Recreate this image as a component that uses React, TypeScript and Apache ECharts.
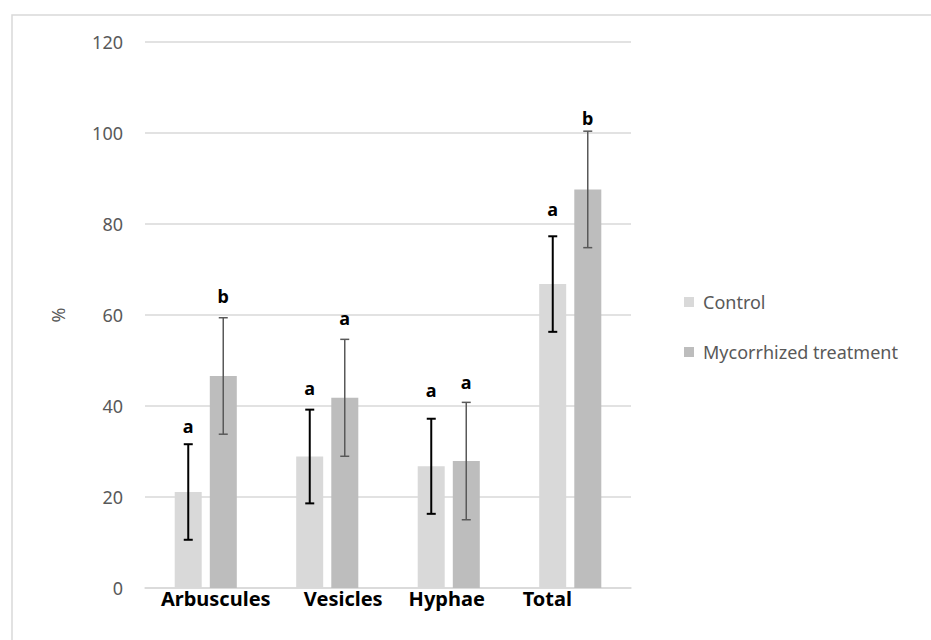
import React, { useEffect, useRef } from "react";
import * as echarts from "echarts";

const categories = ["Arbuscules", "Vesicles", "Hyphae", "Total"];
const seriesNames = ["Control", "Mycorrhized treatment"];
const controlMean = [21.1, 28.9, 26.75, 66.8];
const controlErr = [10.5, 10.3, 10.45, 10.5];
const mycMean = [46.6, 41.8, 27.9, 87.6];
const mycErr = [12.8, 12.85, 12.9, 12.8];
const controlLetters = ["a", "a", "a", "a"];
const mycLetters = ["b", "a", "a", "b"];
const controlLetterY = [35.6, 44.0, 43.6, 83.3];
const mycLetterY = [64.2, 59.3, 45.3, 103.3];
const yTicks = { min: 0, max: 120, interval: 20 };

const labelShift: Record<string, number[]> = {
  Arbuscules: [0, 0, 0, 20],
  Vesicles: [0, 0, 0, 32],
  Hyphae: [0, 4, 0, 0],
  Total: [0, 46, 0, 0],
};

function errorSeries(name: string, means: number[], errs: number[], letters: string[], letterY: number[], offset: number, color: string, width: number) {
  return {
    type: "custom",
    name: name + " err",
    coordinateSystem: "cartesian2d",
    z: 5,
    silent: true,
    data: means.map((m, i) => [i, m - errs[i], m + errs[i], letterY[i]]),
    encode: { x: 0, y: [1, 2] },
    renderItem: (params: any, api: any) => {
      const i = api.value(0);
      const lo = api.coord([i, api.value(1)]);
      const hi = api.coord([i, api.value(2)]);
      const lt = api.coord([i, api.value(3)]);
      const x = lo[0] + offset;
      const cap = 4.5;
      const style = { stroke: color, lineWidth: width };
      return {
        type: "group",
        children: [
          { type: "line", shape: { x1: x, y1: lo[1], x2: x, y2: hi[1] }, style },
          { type: "line", shape: { x1: x - cap, y1: lo[1], x2: x + cap, y2: lo[1] }, style },
          { type: "line", shape: { x1: x - cap, y1: hi[1], x2: x + cap, y2: hi[1] }, style },
          {
            type: "text",
            x: x,
            y: lt[1],
            style: {
              text: letters[params.dataIndex],
              fill: "#000",
              font: "bold 18px 'Noto Sans'",
              align: "center",
              verticalAlign: "middle",
            },
          },
        ],
      };
    },
  };
}

export default function App() {
  const ref = useRef<HTMLDivElement>(null);
  useEffect(() => {
    const chart = echarts.init(ref.current!, null, { renderer: "svg" });
    const rich: Record<string, any> = {};
    categories.forEach((c, i) => {
      rich["c" + i] = {
        fontFamily: "Noto Sans",
        fontWeight: "bold",
        fontSize: 20,
        color: "#000",
        padding: labelShift[c],
      };
    });
    chart.setOption({
      animation: false,
      backgroundColor: "#fff",
      textStyle: { fontFamily: "Noto Sans" },
      graphic: [
        {
          type: "rect",
          shape: { x: 12, y: 15, width: 1000, height: 1000 },
          style: { fill: "none", stroke: "#d9d9d9", lineWidth: 1.5 },
          silent: true,
        },
      ],
      grid: { left: 145, right: 300, top: 42, bottom: 52 },
      legend: {
        orient: "vertical",
        left: 684,
        top: 292,
        padding: 0,
        itemWidth: 10,
        itemHeight: 10,
        itemGap: 30,
        icon: "rect",
        data: seriesNames,
        textStyle: { color: "#595959", fontSize: 18, lineHeight: 20, padding: [0, 0, 0, 4], fontFamily: "Noto Sans" },
      },
      xAxis: {
        type: "category",
        data: categories,
        axisLine: { lineStyle: { color: "#d9d9d9", width: 1.5 } },
        axisTick: { show: false },
        axisLabel: {
          margin: 0,
          interval: 0,
          formatter: (v: string) => `{c${categories.indexOf(v)}|${v}}`,
          rich,
        },
      },
      yAxis: {
        type: "value",
        min: yTicks.min,
        max: yTicks.max,
        interval: yTicks.interval,
        name: "%",
        nameLocation: "middle",
        nameGap: 78,
        nameTextStyle: { color: "#595959", fontSize: 18, fontFamily: "Noto Sans" },
        axisLine: { show: false },
        axisTick: { show: false },
        axisLabel: { color: "#595959", fontSize: 18, margin: 22, fontFamily: "Noto Sans" },
        splitLine: { lineStyle: { color: "#d9d9d9", width: 1.5 } },
      },
      series: [
        {
          type: "bar",
          name: seriesNames[0],
          data: controlMean,
          barWidth: 27,
          barGap: "30%",
          itemStyle: { color: "#d9d9d9" },
        },
        {
          type: "bar",
          name: seriesNames[1],
          data: mycMean,
          barWidth: 27,
          barGap: "30%",
          itemStyle: { color: "#bdbdbd" },
        },
        errorSeries(seriesNames[0], controlMean, controlErr, controlLetters, controlLetterY, -17.5, "#000", 2),
        errorSeries(seriesNames[1], mycMean, mycErr, mycLetters, mycLetterY, 17.5, "#595959", 1.5),
      ],
    });
    return () => chart.dispose();
  }, []);
  return <div ref={ref} style={{ position: "fixed", left: 0, top: 0, width: 931, height: 640 }} />;
}
